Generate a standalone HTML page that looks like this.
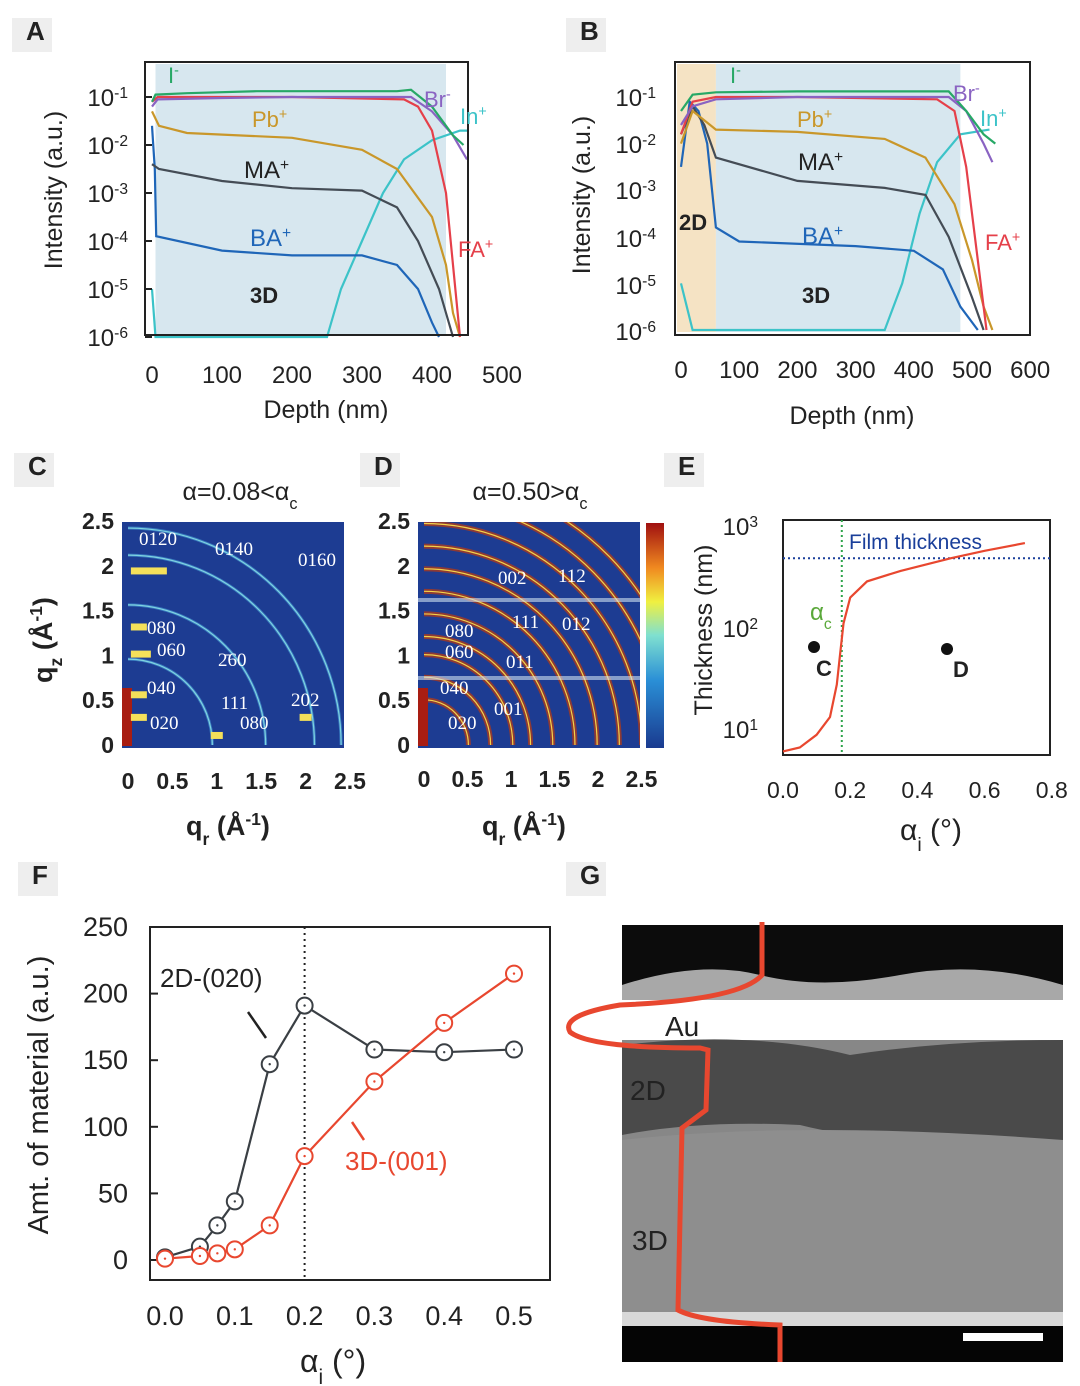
<!DOCTYPE html>
<html><head><meta charset="utf-8"><style>
body{margin:0;background:#fff}
svg{display:block;font-family:"Liberation Sans",sans-serif}
</style></head><body>
<svg id="fig" width="1080" height="1386" viewBox="0 0 1080 1386" xmlns="http://www.w3.org/2000/svg">
<rect width="1080" height="1386" fill="#fff"/>
<g id="A"></g>
<g id="B"></g>
<g id="C"></g>
<g id="D"></g>
<g id="E"></g>
<g id="F"></g>
<g id="G"></g>
</svg>
<script>
// ---- Panel A data (depth nm, log10 intensity) ----
const aDepthI=[0,5,50,150,250,350,370,400,430,445];
const aValI=[-1.1,-0.95,-0.92,-0.88,-0.88,-0.88,-0.85,-1.2,-1.8,-2.0];
const aDepthBr=[0,8,100,200,300,370,400,430,450];
const aValBr=[-1.2,-1.05,-1.02,-1.0,-1.0,-1.0,-1.3,-1.8,-2.3];
const aDepthPb=[0,10,50,200,300,350,400,420,430,440];
const aValPb=[-1.3,-1.6,-1.75,-1.85,-2.1,-2.5,-3.5,-4.5,-5.5,-6];
const aDepthMA=[0,10,100,200,300,350,380,410,420,430];
const aValMA=[-2.4,-2.5,-2.75,-2.9,-2.95,-3.3,-4,-5,-5.5,-6];
const aDepthBA=[0,4,6,100,200,300,350,380,400,410];
const aValBA=[-1.6,-2.5,-3.9,-4.2,-4.3,-4.3,-4.5,-5,-5.7,-6];
const aDepthFA=[0,8,200,360,380,400,420,430,440];
const aValFA=[-1.1,-1.0,-1.0,-1.05,-1.2,-1.7,-3,-4.5,-6];
const aDepthIn=[0,5,250,270,300,330,360,400,440,450];
const aValIn=[-5,-6,-6,-5,-4,-3,-2.3,-1.9,-1.7,-1.7];
// ---- Panel B data ----
const bDepthI=[0,20,60,200,400,460,490,520,540];
const bValI=[-1.3,-0.95,-0.9,-0.88,-0.88,-0.88,-1.3,-1.8,-2.0];
const bDepthBr=[0,20,60,200,400,460,490,520,535];
const bValBr=[-1.6,-1.2,-1.05,-1.0,-1.0,-1.0,-1.3,-2,-2.4];
const bDepthPb=[0,20,60,200,350,420,470,500,520,535];
const bValPb=[-2,-1.3,-1.7,-1.75,-1.9,-2.3,-3.3,-4.5,-5.5,-6];
const bDepthMA=[0,20,40,60,200,350,420,460,500,520];
const bValMA=[-1.8,-1.2,-1.6,-2.3,-2.8,-2.95,-3.1,-4,-5.3,-6];
const bDepthBA=[0,15,30,45,60,100,300,400,450,480,510];
const bValBA=[-2.5,-1.1,-1.3,-2.0,-3.8,-4.1,-4.2,-4.3,-4.7,-5.5,-6];
const bDepthFA=[0,20,60,200,440,470,490,510,525];
const bValFA=[-1.8,-1.1,-1.0,-1.0,-1.05,-1.3,-2.5,-4.5,-6];
const bDepthIn=[0,10,20,300,350,380,410,440,480,530];
const bValIn=[-5,-5.5,-6,-6,-6,-5,-3.5,-2.4,-1.8,-1.7];
// ---- Panel E data ----
const eAlpha=[0,0.05,0.1,0.14,0.16,0.17,0.18,0.2,0.25,0.35,0.5,0.6,0.72];
const eThick=[5.5,6,8,12,25,50,100,180,260,330,440,520,620];
// ---- Panel F data ----
const fAlpha=[0,0.05,0.075,0.1,0.15,0.2,0.3,0.4,0.5];
const f2D=[2,10,26,44,147,191,158,156,158];
const f3D=[1,3,5,8,26,78,134,178,215];
const fXTicks=["0.0","0.1","0.2","0.3","0.4","0.5"];
const fYTicks=[0,50,100,150,200,250];
// ---- GIWAXS peaks ----
const cRings=[0.95,1.55,2.1,2.4];
const dRings=[0.5,0.75,1.0,1.2,1.45,1.7,1.95,2.2,2.45,2.7,2.95];

const NS="http://www.w3.org/2000/svg";
function el(parent,tag,attrs,text){const e=document.createElementNS(NS,tag);for(const k in attrs)e.setAttribute(k,attrs[k]);if(text!==undefined)e.textContent=text;parent.appendChild(e);return e;}
function T(p,x,y,s,txt,o={}){const e=el(p,'text',Object.assign({x:x,y:y,'font-size':s,fill:'#222'},o),txt);return e;}
// text with parts: [str, 'n'|'sub'|'sup']
function R(p,x,y,s,parts,o={}){const e=el(p,'text',Object.assign({x:x,y:y,'font-size':s,fill:'#222'},o));
 parts.forEach(pt=>{const a={};if(pt[1]==='sub'){a['baseline-shift']='sub';a['font-size']=s*0.65;}if(pt[1]==='sup'){a['baseline-shift']='super';a['font-size']=s*0.65;}el(e,'tspan',a,pt[0]);});return e;}
function lbl(p,x,y,t){el(p,'rect',{x:x-14,y:y-22,width:40,height:34,fill:'#eee'});const e=T(p,x,y,26,t,{'font-weight':'bold','font-family':'Liberation Sans Narrow, Liberation Sans, sans-serif'});}
function logAxisLabels(p,x,ys){ys.forEach((y,i)=>{R(p,x,y,24,[['10','n'],['-'+(i+1),'sup']],{'text-anchor':'end'});});}
function curve(p,xs,vs,fx,fy,color,name){const d=xs.map((x,i)=>(i?'L':'M')+fx(x).toFixed(1)+','+fy(vs[i]).toFixed(1)).join('');const e=el(p,'path',{d:d,fill:'none',stroke:color,'stroke-width':2.2});}
function ion(p,x,y,s,a,b,c){R(p,x,y,s,[[a,'n'],[b,'sup']],{fill:c});}

// Panel A
(function(){const g=document.getElementById('A');lbl(g,26,40,'A');
const fx=d=>152+d*0.70, fy=v=>97+(-1-v)*48;
el(g,'rect',{x:fx(5),y:64,width:fx(420)-fx(5),height:270,fill:'#d7e7ef'});
curve(g,aDepthIn,aValIn,fx,fy,'#3cc3c8','series-in');
curve(g,aDepthBA,aValBA,fx,fy,'#1f66b8','series-ba');
curve(g,aDepthMA,aValMA,fx,fy,'#444c55','series-ma');
curve(g,aDepthPb,aValPb,fx,fy,'#c9972a','series-pb');
curve(g,aDepthFA,aValFA,fx,fy,'#e5404a','series-fa');
curve(g,aDepthBr,aValBr,fx,fy,'#8a63c2','series-br');
curve(g,aDepthI,aValI,fx,fy,'#27a866','series-i');
el(g,'rect',{x:145,y:62,width:323,height:273,fill:'none',stroke:'#222','stroke-width':2});
[0,1,2,3,4,5].forEach(i=>{const y=97+i*48;el(g,'line',{x1:145,x2:152,y1:y,y2:y,stroke:'#222','stroke-width':2});});
logAxisLabels(g,128,[106,154,202,250,298,346]);
[0,100,200,300,400,500].forEach(d=>T(g,fx(d),383,24,d,{'text-anchor':'middle'}));
T(g,326,418,25,'Depth (nm)',{'text-anchor':'middle'});
T(g,62,190,25,'Intensity (a.u.)',{'text-anchor':'middle',transform:'rotate(-90 62 190)'});
ion(g,168,83,22,'I','-','#27a866');ion(g,252,127,22,'Pb','+','#c9972a');ion(g,244,178,24,'MA','+','#222');
ion(g,250,246,24,'BA','+','#1f66b8');ion(g,424,107,22,'Br','-','#8a63c2');ion(g,460,124,22,'In','+','#3cc3c8');
ion(g,458,257,22,'FA','+','#e5404a');T(g,250,303,22,'3D',{'font-weight':'bold'});})();

// Panel B
(function(){const g=document.getElementById('B');lbl(g,580,40,'B');
const fx=d=>681+d*0.582, fy=v=>97+(-1-v)*46.6;
el(g,'rect',{x:677,y:64,width:fx(60)-677,height:268,fill:'#f5e3c4'});
el(g,'rect',{x:fx(60),y:64,width:fx(480)-fx(60),height:268,fill:'#d7e7ef'});
curve(g,bDepthIn,bValIn,fx,fy,'#3cc3c8','series-in');
curve(g,bDepthBA,bValBA,fx,fy,'#1f66b8','series-ba');
curve(g,bDepthMA,bValMA,fx,fy,'#444c55','series-ma');
curve(g,bDepthPb,bValPb,fx,fy,'#c9972a','series-pb');
curve(g,bDepthFA,bValFA,fx,fy,'#e5404a','series-fa');
curve(g,bDepthBr,bValBr,fx,fy,'#8a63c2','series-br');
curve(g,bDepthI,bValI,fx,fy,'#27a866','series-i');
el(g,'rect',{x:675,y:62,width:355,height:273,fill:'none',stroke:'#222','stroke-width':2});
logAxisLabels(g,656,[106,153,199,247,294,340]);
[0,100,200,300,400,500,600].forEach(d=>T(g,fx(d),378,24,d,{'text-anchor':'middle'}));
T(g,852,424,25,'Depth (nm)',{'text-anchor':'middle'});
T(g,590,195,25,'Intensity (a.u.)',{'text-anchor':'middle',transform:'rotate(-90 590 195)'});
ion(g,730,83,22,'I','-','#27a866');ion(g,797,127,22,'Pb','+','#c9972a');ion(g,798,170,24,'MA','+','#222');
ion(g,802,244,24,'BA','+','#1f66b8');ion(g,953,101,22,'Br','-','#8a63c2');ion(g,980,126,22,'In','+','#3cc3c8');
ion(g,985,250,22,'FA','+','#e5404a');T(g,802,303,22,'3D',{'font-weight':'bold'});T(g,679,230,22,'2D',{'font-weight':'bold'});})();

// GIWAXS helper
function giwaxs(g,x0,qx0,rings,dense){
 const W=222,H=226,y0=522,sx=W/2.5,sy=H/2.5;
 const cp='clip'+x0;const cl=el(g,'clipPath',{id:cp});el(cl,'rect',{x:x0,y:y0,width:W,height:H});
 el(g,'rect',{x:x0,y:y0,width:W,height:H,fill:'#1d3c92'});
 const gg=el(g,'g',{'clip-path':'url(#'+cp+')'});
 const ox=qx0,oy=y0+H-3;
 rings.forEach(q=>{const r=q*sx;
  el(gg,'path',{d:`M${ox+r},${oy} A${r},${r*sy/sx} 0 0 0 ${ox},${oy-r*sy/sx}`,fill:'none',stroke:dense?'#9b3a2a':'#3b7fc4','stroke-width':dense?5:3,'opacity':0.9});
  el(gg,'path',{d:`M${ox+r},${oy} A${r},${r*sy/sx} 0 0 0 ${ox},${oy-r*sy/sx}`,fill:'none',stroke:dense?'#f3d24a':'#7fd3e0','stroke-width':1.2});
 });
 el(gg,'rect',{x:x0,y:y0+H-60,width:10,height:58,fill:'#a81d12'});
 return {ox,oy,sx,sy};
}
function qrLabel(g,x){R(g,x,835,27,[['q','n'],['r','sub'],[' (Å','n'],['-1','sup'],[')','n']],{'font-weight':'bold'});}
// Panel C
(function(){const g=document.getElementById('C');lbl(g,28,475,'C');
const a=giwaxs(g,122,128,cRings,false);
[[0.1,1.92,30],[0.1,1.3,10],[0.1,1.0,14],[0.1,0.55,10],[0.1,0.3,10],[1.0,0.1,6],[2.0,0.3,6]].forEach(p=>{
 el(g,'rect',{x:a.ox+p[0]*a.sx-6,y:a.oy-p[1]*a.sy-4,width:p[2]+6,height:7,fill:'#f4e05a'});});
const w={fill:'#fff','font-size':19,'font-family':'Liberation Serif, serif'};
[['0120',139,545],['0140',215,555],['0160',298,566],['080',147,634],['060',157,656],['2̄60',218,666],['040',147,694],['111',221,709],['202',291,706],['020',150,729],['080',240,729]].forEach(t=>T(g,t[1],t[2],19,t[0],w));
R(g,240,500,25,[['α=0.08<α','n'],['c','sub']],{'text-anchor':'middle'});
[0,0.5,1,1.5,2,2.5].forEach(v=>{T(g,128+v*88.8,789,23,v,{'text-anchor':'middle','font-weight':'bold'});T(g,114,753-v*89.6,23,v,{'text-anchor':'end','font-weight':'bold'});});
qrLabel(g,186);
R(g,52,640,27,[['q','n'],['z','sub'],[' (Å','n'],['-1','sup'],[')','n']],{'text-anchor':'middle','font-weight':'bold',transform:'rotate(-90 52 640)'});})();

// Panel D
(function(){const g=document.getElementById('D');lbl(g,374,475,'D');
const a=giwaxs(g,418,424,dRings,true);
el(g,'rect',{x:418,y:598,width:222,height:4,fill:'#cfe0f0',opacity:0.6});
el(g,'rect',{x:418,y:676,width:222,height:4,fill:'#cfe0f0',opacity:0.6});
const gr=el(g,'linearGradient',{id:'cb',x1:0,y1:1,x2:0,y2:0});
[['0','#1a3a8f'],['0.3','#2a8fd6'],['0.5','#7fe0d0'],['0.65','#f0f040'],['0.8','#f08a20'],['1','#a01010']].forEach(s=>el(gr,'stop',{offset:s[0],'stop-color':s[1]}));
el(g,'rect',{x:646,y:523,width:18,height:225,fill:'url(#cb)'});
const w={fill:'#fff','font-size':19,'font-family':'Liberation Serif, serif'};
[['002',498,584],['112',558,582],['111',512,628],['012',562,630],['080',445,637],['060',445,658],['011',506,668],['040',440,694],['001',494,715],['020',448,729]].forEach(t=>T(g,t[1],t[2],19,t[0],w));
R(g,530,500,25,[['α=0.50>α','n'],['c','sub']],{'text-anchor':'middle'});
[0,0.5,1,1.5,2,2.5].forEach(v=>{T(g,424+v*87,787,23,v,{'text-anchor':'middle','font-weight':'bold'});T(g,410,753-v*89.6,23,v,{'text-anchor':'end','font-weight':'bold'});});
qrLabel(g,482);})();

// Panel E
(function(){const g=document.getElementById('E');lbl(g,678,475,'E');
const fx=a=>783+a*336, fy=t=>522+(3-Math.log10(t))*101.5;
el(g,'rect',{x:783,y:520,width:267,height:235,fill:'none',stroke:'#222','stroke-width':2});
el(g,'line',{x1:783,x2:1050,y1:fy(440),y2:fy(440),stroke:'#1a3f9a','stroke-width':2,'stroke-dasharray':'2,3'});
el(g,'line',{x1:fx(0.175),x2:fx(0.175),y1:520,y2:755,stroke:'#2ea34a','stroke-width':2,'stroke-dasharray':'2,3'});
curve(g,eAlpha,eThick.map(Math.log10),fx,v=>522+(3-v)*101.5,'#e8472f','thickness-curve');
el(g,'circle',{cx:814,cy:647,r:6,fill:'#111'});el(g,'circle',{cx:947,cy:649,r:6,fill:'#111'});
T(g,816,676,22,'C',{'font-weight':'bold'});T(g,953,677,22,'D',{'font-weight':'bold'});
T(g,849,549,21,'Film thickness',{fill:'#1a3f9a'});R(g,810,620,24,[['α','n'],['c','sub']],{fill:'#5aa83a'});
[[530,3],[632,2],[733,1]].forEach(t=>R(g,758,t[0]+5,24,[['10','n'],[String(t[1]),'sup']],{'text-anchor':'end'}));
['0.0','0.2','0.4','0.6','0.8'].forEach((s,i)=>T(g,fx(i*0.2),798,23,s,{'text-anchor':'middle'}));
T(g,712,630,25,'Thickness (nm)',{'text-anchor':'middle',transform:'rotate(-90 712 630)'});
R(g,900,840,30,[['α','n'],['i','sub'],[' (°)','n']]);})();

// Panel F
(function(){const g=document.getElementById('F');lbl(g,32,884,'F');
const fx=a=>165+a*698, fy=v=>1260-v*1.332;
el(g,'rect',{x:150,y:927,width:400,height:353,fill:'none',stroke:'#222','stroke-width':2});
el(g,'line',{x1:fx(0.2),x2:fx(0.2),y1:927,y2:1280,stroke:'#222','stroke-width':2,'stroke-dasharray':'2,4'});
fYTicks.forEach(v=>{T(g,128,fy(v)+9,27,v,{'text-anchor':'end'});el(g,'line',{x1:150,x2:158,y1:fy(v),y2:fy(v),stroke:'#222','stroke-width':2});});
fXTicks.forEach((s,i)=>T(g,fx(i*0.1),1325,27,s,{'text-anchor':'middle'}));
function series(vals,color,name){curve(g,fAlpha,vals,fx,fy,color,name+'-line');
 fAlpha.forEach((a,i)=>{const c=el(g,'circle',{cx:fx(a),cy:fy(vals[i]),r:8,fill:'#fff',stroke:color,'stroke-width':2});el(g,'circle',{cx:fx(a),cy:fy(vals[i]),r:1.2,fill:color});});}
series(f2D,'#3a3f44','series-2d');series(f3D,'#e8472f','series-3d');
el(g,'line',{x1:248,y1:1012,x2:266,y2:1038,stroke:'#222','stroke-width':2.5});
el(g,'line',{x1:352,y1:1122,x2:364,y2:1140,stroke:'#e8472f','stroke-width':2.5});
T(g,160,987,26,'2D-(020)');T(g,345,1170,26,'3D-(001)',{fill:'#e8472f'});
T(g,48,1095,29,'Amt. of material (a.u.)',{'text-anchor':'middle',transform:'rotate(-90 48 1095)'});
R(g,300,1372,32,[['α','n'],['i','sub'],[' (°)','n']]);})();

// Panel G
(function(){const g=document.getElementById('G');lbl(g,580,884,'G');
const cp=el(g,'clipPath',{id:'gclip'});el(cp,'rect',{x:622,y:925,width:441,height:437});
const gg=el(g,'g',{'clip-path':'url(#gclip)'});
el(gg,'rect',{x:622,y:925,width:441,height:437,fill:'#878787'});
el(gg,'rect',{x:622,y:925,width:441,height:80,fill:'#0c0c0c'});
el(gg,'path',{d:'M622,985 Q700,960 760,975 Q820,990 900,975 Q980,960 1063,985 L1063,1005 L622,1005Z',fill:'#a8a8a8'});
el(gg,'rect',{x:622,y:1000,width:441,height:40,fill:'#fff'});
el(gg,'path',{d:'M622,1045 Q750,1030 850,1055 Q950,1040 1063,1040 L1063,1140 Q900,1150 800,1125 Q700,1120 622,1135Z',fill:'#4a4a4a'});
el(gg,'path',{d:'M622,1140 Q800,1120 1063,1140 L1063,1320 L622,1320Z',fill:'#8e8e8e'});
el(gg,'rect',{x:622,y:1312,width:441,height:14,fill:'#d8d8d8'});
el(gg,'rect',{x:622,y:1326,width:441,height:36,fill:'#050505'});
el(g,'rect',{x:963,y:1333,width:80,height:8,fill:'#fff'});
el(g,'path',{d:'M762,922 L762,975 Q740,1000 620,1005 Q560,1015 570,1032 Q590,1048 700,1048 L708,1050 L706,1110 L682,1128 L678,1310 Q700,1322 780,1325 L780,1362',fill:'none',stroke:'#e8472f','stroke-width':5});
T(g,665,1036,28,'Au');T(g,630,1100,28,'2D');T(g,632,1250,28,'3D');})();
</script>
</body></html>
